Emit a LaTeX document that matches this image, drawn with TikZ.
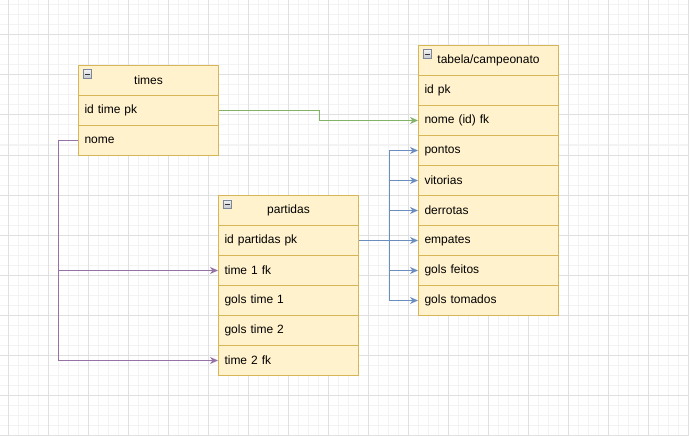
\documentclass[tikz,border=0pt]{standalone}
\usepackage{fontspec}
\setmainfont{Liberation Sans}
\usetikzlibrary{arrows.meta,calc}
\definecolor{boxfill}{HTML}{FFF2CC}
\definecolor{boxline}{HTML}{D6B656}
\definecolor{lgreen}{HTML}{82B366}
\definecolor{lblue}{HTML}{6C8EBF}
\definecolor{lpurple}{HTML}{9673A6}
\definecolor{gridminor}{HTML}{F3F3F3}
\definecolor{gridmajor}{HTML}{E0E0E0}
\definecolor{iconline}{HTML}{7D8795}
\definecolor{icontop}{HTML}{F2F2F2}
\definecolor{iconbot}{HTML}{C4C8CE}
\newcommand{\fs}{\fontsize{12}{14}\selectfont}
\tikzset{
  tbl/.style={draw=boxline, fill=boxfill, line width=1pt, minimum width=140pt,
    minimum height=30pt, anchor=north west, inner sep=0pt, font=\fs, text=black},
  hdr/.style={tbl, align=center},
  fld/.style={tbl, text width=128pt, align=left, inner xsep=6pt},
  iconbox/.style={draw=iconline, line width=0.8pt, top color=icontop, bottom color=iconbot,
    minimum width=8.5pt, minimum height=8.5pt, inner sep=0pt, anchor=north west},
  conn/.style={line width=1pt},
  greenconn/.style={conn, draw=lgreen, -{Stealth[length=8pt,width=7pt,inset=2.5pt,fill=lgreen]}},
  blueconn/.style={conn, draw=lblue, -{Stealth[length=8pt,width=7pt,inset=2.5pt,fill=lblue]}},
  purpleconn/.style={conn, draw=lpurple, -{Stealth[length=8pt,width=7pt,inset=2.5pt,fill=lpurple]}},
}
\newcommand{\minusicon}[2]{%
  \node[iconbox] (#2) at (#1) {};
  \draw[black!80, line width=1.2pt] ($(#2.west)+(2.3pt,0)$) -- ($(#2.east)+(-2.3pt,0)$);
}
\begin{document}
\begin{tikzpicture}[x=1pt,y=-1pt]
\useasboundingbox (0,0) rectangle (689,436);
\fill[white] (0,0) rectangle (689,436);
% grid
\foreach \x in {-2,8,...,688} \draw[gridminor, line width=1pt] (\x,0) -- (\x,436);
\foreach \y in {5,15,...,435} \draw[gridminor, line width=1pt] (0,\y) -- (689,\y);
\foreach \x in {8,48,...,688} \draw[gridmajor, line width=1pt] (\x,0) -- (\x,436);
\foreach \y in {35,75,...,435} \draw[gridmajor, line width=1pt] (0,\y) -- (689,\y);

% times
\node[hdr] (t0) at (78,65) {times};
\node[fld] (t1) at (78,95) {id time pk};
\node[fld] (t2) at (78,125) {nome};
\minusicon{82.5,69.5}{ti}

% tabela/campeonato
\node[hdr] (c0) at (418,45) {tabela/campeonato};
\node[fld] (c1) at (418,75) {id pk};
\node[fld] (c2) at (418,105) {nome (id) fk};
\node[fld] (c3) at (418,135) {pontos};
\node[fld] (c4) at (418,165) {vitorias};
\node[fld] (c5) at (418,195) {derrotas};
\node[fld] (c6) at (418,225) {empates};
\node[fld] (c7) at (418,255) {gols feitos};
\node[fld] (c8) at (418,285) {gols tomados};
\minusicon{422.5,49.5}{ci}

% partidas
\node[hdr] (p0) at (218,195) {partidas};
\node[fld] (p1) at (218,225) {id partidas pk};
\node[fld] (p2) at (218,255) {time 1 fk};
\node[fld] (p3) at (218,285) {gols time 1};
\node[fld] (p4) at (218,315) {gols time 2};
\node[fld] (p5) at (218,345) {time 2 fk};
\minusicon{222.5,199.5}{pi}

% connectors
\coordinate (gj) at ($(t1.east)+(100,0)$);
\draw[greenconn] (t1.east) -- (gj) |- (c2.west);

\coordinate (bj) at ($(p1.east)+(30,0)$);
\foreach \c in {c3,c4,c5,c6,c7,c8}
  \draw[blueconn] (p1.east) -- (bj) |- (\c.west);

\coordinate (pj) at ($(t2.west)+(-20,0)$);
\draw[purpleconn] (t2.west) -- (pj) |- (p2.west);
\draw[purpleconn] (t2.west) -- (pj) |- (p5.west);
\end{tikzpicture}
\end{document}
